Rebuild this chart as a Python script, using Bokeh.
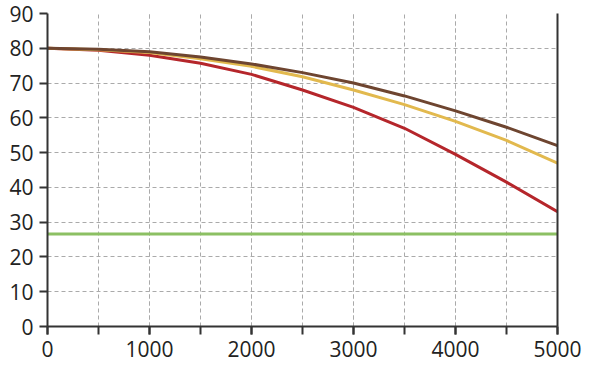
from bokeh.plotting import figure
from bokeh.models import Range1d, SingleIntervalTicker, LinearAxis, FixedTicker
from bokeh.embed import file_html
from bokeh.resources import INLINE

x_vals = [0, 500, 1000, 1500, 2000, 2500, 3000, 3500, 4000, 4500, 5000]
brown = [80, 79.7, 79.0, 77.5, 75.5, 73.0, 70.0, 66.3, 62.0, 57.3, 52.0]
gold = [80, 79.6, 78.8, 77.0, 74.8, 71.8, 68.0, 63.8, 59.0, 53.5, 47.0]
red = [80, 79.4, 78.0, 75.7, 72.5, 68.0, 63.0, 57.0, 49.5, 41.5, 33.0]
green_level = 26.6
green = [green_level] * len(x_vals)

FONT = "Open Sans"
AX = "#333333"

p = figure(width=584, height=364, output_backend="svg", toolbar_location=None,
           x_range=Range1d(0, 5000), y_range=Range1d(0, 90),
           min_border_left=47, min_border_right=27, min_border_top=13, min_border_bottom=38)
p.outline_line_color = None
p.background_fill_color = "white"

p.xaxis.ticker = SingleIntervalTicker(interval=1000, num_minor_ticks=2)
p.yaxis.ticker = SingleIntervalTicker(interval=10, num_minor_ticks=0)

for ax in (p.xaxis[0], p.yaxis[0]):
    ax.axis_line_color = AX
    ax.axis_line_width = 2
    ax.major_tick_line_color = AX
    ax.major_tick_line_width = 2
    ax.major_tick_out = 8
    ax.major_tick_in = 0
    ax.major_label_text_font = FONT
    ax.major_label_text_font_size = "21px"
    ax.major_label_text_color = "#222222"
    ax.major_label_standoff = 6
p.xaxis.minor_tick_line_color = AX
p.xaxis.minor_tick_line_width = 2
p.xaxis.minor_tick_out = 8
p.xaxis.minor_tick_in = 0
p.yaxis.minor_tick_line_color = None

p.xgrid.grid_line_color = "#aaaaaa"
p.xgrid.grid_line_dash = "4 3"
p.xgrid.minor_grid_line_color = "#aaaaaa"
p.xgrid.minor_grid_line_dash = "4 3"
p.ygrid.grid_line_color = "#aaaaaa"
p.ygrid.grid_line_dash = "4 3"

right = LinearAxis(ticker=FixedTicker(ticks=[]), axis_line_color=AX, axis_line_width=2,
                   major_tick_line_color=None, minor_tick_line_color=None,
                   major_label_text_color=None)
p.add_layout(right, "right")

p.line(x_vals, green, line_color="#8cc063", line_width=3)
p.line(x_vals, red, line_color="#b5262b", line_width=3)
p.line(x_vals, gold, line_color="#e2b94e", line_width=3)
p.line(x_vals, brown, line_color="#6e4530", line_width=3)

open("out.html", "w").write(file_html(p, INLINE))
